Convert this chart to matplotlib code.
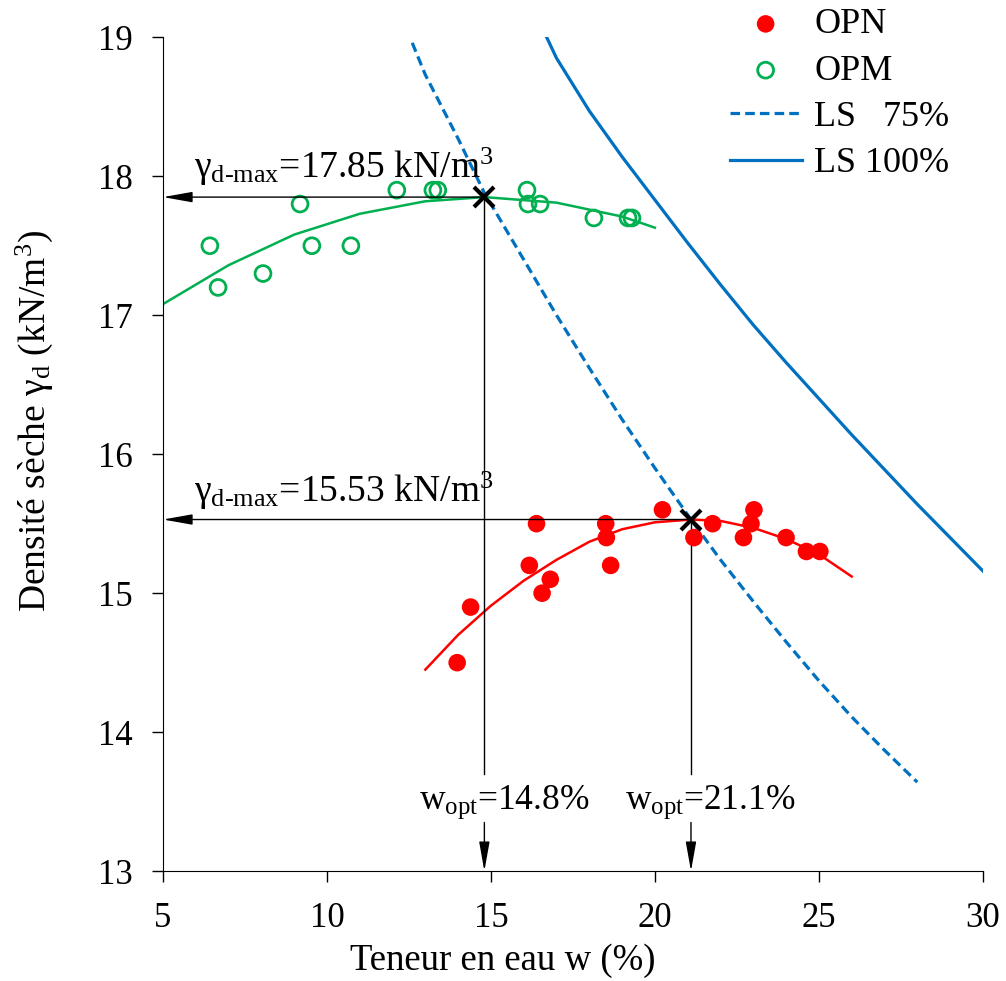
import numpy as np
import matplotlib.pyplot as plt

plt.rcParams['font.family'] = ['Liberation Serif', 'DejaVu Serif']
plt.rcParams['mathtext.fontset'] = 'custom'
plt.rcParams['mathtext.rm'] = 'Liberation Serif'
plt.rcParams['mathtext.it'] = 'Liberation Serif:italic'

# OPN (red, filled) measured points
w_opn = [13.97, 14.38, 16.17, 16.39, 16.56, 16.81, 18.50, 18.52, 18.65, 20.23,
         21.19, 21.76, 22.70, 22.93, 23.02, 24.00, 24.62, 25.03]
g_opn = [14.50, 14.90, 15.20, 15.50, 15.00, 15.10, 15.50, 15.40, 15.20, 15.60,
         15.40, 15.50, 15.40, 15.50, 15.60, 15.40, 15.30, 15.30]

# OPM (green, open) measured points
w_opm = [6.43, 6.68, 8.05, 9.18, 9.54, 10.73, 12.13, 13.23, 13.38, 16.10,
         16.13, 16.50, 18.14, 19.18, 19.30]
g_opm = [17.50, 17.20, 17.30, 17.80, 17.50, 17.50, 17.90, 17.90, 17.90, 17.90,
         17.80, 17.80, 17.70, 17.70, 17.70]

# fitted compaction curves
w_fit_opn = [13.0, 14.0, 15.0, 16.0, 17.0, 18.0, 19.0, 20.0, 21.1, 22.0, 23.0, 24.0, 25.0, 26.0]
g_fit_opn = [14.45, 14.70, 14.91, 15.09, 15.24, 15.37, 15.46, 15.51, 15.53, 15.52, 15.47, 15.39, 15.28, 15.12]
w_fit_opm = [5.0, 7.0, 9.0, 11.0, 13.0, 14.8, 17.0, 19.0, 20.0]
g_fit_opm = [17.08, 17.36, 17.58, 17.73, 17.82, 17.85, 17.81, 17.71, 17.63]

# saturation lines
w_ls75 = [12.6, 13.0, 14.0, 14.8, 16.0, 17.0, 18.0, 19.0, 20.0, 21.1, 22.0, 23.0,
          24.0, 25.0, 26.0, 27.0, 28.0]
g_ls75 = [18.96, 18.73, 18.27, 17.88, 17.40, 17.00, 16.62, 16.25, 15.90, 15.53, 15.24, 14.94,
          14.65, 14.37, 14.11, 13.87, 13.64]
w_ls100 = [16.7, 17.0, 18.0, 19.0, 20.0, 21.0, 22.0, 23.0, 24.0, 25.0, 26.0, 27.0,
           28.0, 29.0, 30.0]
g_ls100 = [19.00, 18.85, 18.47, 18.14, 17.83, 17.52, 17.22, 16.93, 16.66, 16.40, 16.14, 15.89,
           15.64, 15.40, 15.16]

# optimum points
w_opt = [14.8, 21.1]
g_max = [17.85, 15.53]

red = '#ff0000'
green = '#00b050'
blue = '#0070c0'
fs = 26

fig, ax = plt.subplots(figsize=(10.06, 9.81), dpi=100)
fig.subplots_adjust(left=0.162, right=0.977, bottom=0.112, top=0.962)

ax.scatter(w_opn, g_opn, s=160, color=red, edgecolors='none', zorder=3, label='OPN')
ax.scatter(w_opm, g_opm, s=130, facecolors='none', edgecolors=green, linewidths=2, zorder=3, label='OPM')
ax.plot(w_ls75, g_ls75, color=blue, lw=2.3, ls=(0, (3, 1.6)), label='LS   75%')
ax.plot(w_ls100, g_ls100, color=blue, lw=2.3, label='LS 100%')
ax.plot(w_fit_opn, g_fit_opn, color=red, lw=1.8, zorder=2)
ax.plot(w_fit_opm, g_fit_opm, color=green, lw=1.8, zorder=2)

arrow = dict(arrowstyle='-|>,head_length=1.8,head_width=0.32', color='black',
             lw=1, shrinkA=0, shrinkB=0, mutation_scale=10)
for wo, go in zip(w_opt, g_max):
    ax.annotate('', xy=(5, go), xytext=(wo, go), arrowprops=arrow, annotation_clip=False)
    ax.plot([wo, wo], [go, 13.7], color='black', lw=1, zorder=2)
    ax.annotate('', xy=(wo, 13.0), xytext=(wo, 13.35), arrowprops=arrow, annotation_clip=False)
    ax.plot(wo, go, 'x', color='black', ms=14, mew=3, zorder=5)

ax.text(5.95, 17.985, r'γ$_{\text{d-max}}$=17.85 kN/m$^{3}$', fontsize=27, va='baseline')
ax.text(5.95, 15.655, r'γ$_{\text{d-max}}$=15.53 kN/m$^{3}$', fontsize=27, va='baseline')
ax.text(15.4, 13.446, r'w$_{\text{opt}}$=14.8%', fontsize=25.5, va='baseline', ha='center')
ax.text(21.68, 13.446, r'w$_{\text{opt}}$=21.1%', fontsize=25.5, va='baseline', ha='center')

ax.set_xlim(5, 30)
ax.set_ylim(13, 19)
ax.set_xticks([5, 10, 15, 20, 25, 30])
ax.set_yticks([13, 14, 15, 16, 17, 18, 19])
ax.spines['top'].set_visible(False)
ax.spines['right'].set_visible(False)
ax.tick_params(axis='both', direction='out', length=8, width=1, labelsize=25)
ax.tick_params(axis='x', pad=14)
ax.tick_params(axis='y', pad=14)

ax.set_xlabel('Teneur en eau w (%)', fontsize=26.5)
ax.set_ylabel(r'Densité sèche γ$_{\text{d}}$ (kN/m$^{3}$)', fontsize=27)
ax.xaxis.set_label_coords(0.415, -0.087)
ax.yaxis.set_label_coords(-0.132, 0.54)

ax.legend(loc='upper left', bbox_to_anchor=(0.691, 1.035), frameon=False, fontsize=fs,
          handlelength=2.0, handletextpad=0.35, labelspacing=0.36, borderpad=0,
          borderaxespad=0)

plt.savefig('out.png', dpi=100)
